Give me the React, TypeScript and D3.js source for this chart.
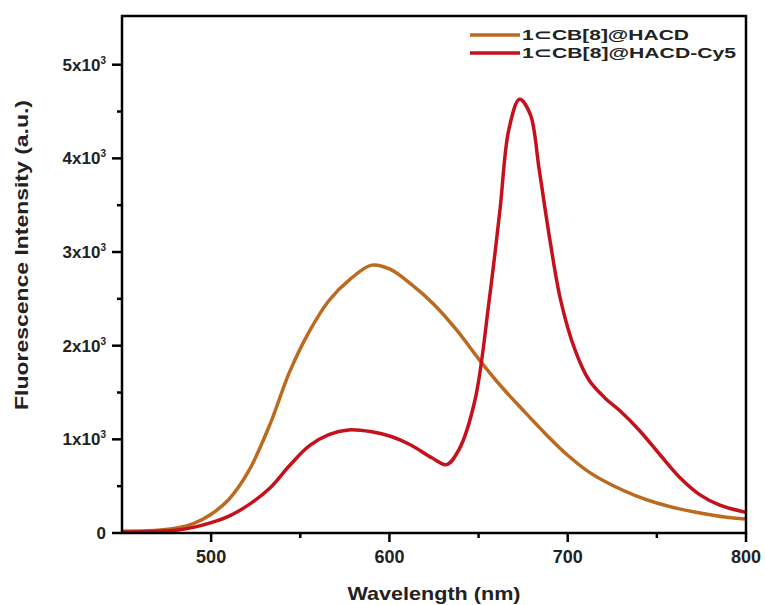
import { useEffect, useRef } from "react";
import * as d3 from "d3";

// wavelength (nm) / intensity (x10^3 a.u.)
const hacdWl = [450, 470, 480, 490, 500, 510, 521, 533, 544, 555, 566, 578, 590, 600, 612, 625, 638, 650, 662, 675, 688, 700, 712, 725, 738, 750, 762, 775, 788, 800];
const hacdVal = [0.02, 0.03, 0.05, 0.1, 0.2, 0.36, 0.66, 1.16, 1.72, 2.15, 2.48, 2.71, 2.86, 2.82, 2.66, 2.44, 2.16, 1.86, 1.58, 1.31, 1.05, 0.83, 0.65, 0.51, 0.4, 0.32, 0.26, 0.21, 0.17, 0.15];

const cy5Wl = [450, 470, 480, 490, 500, 510, 521, 533, 544, 555, 566, 577, 590, 601, 612, 624, 632, 639, 648, 656, 662, 667, 673, 679, 684, 690, 696, 704, 712, 721, 729, 740, 752, 763, 774, 785, 800];
const cy5Val = [0.01, 0.02, 0.03, 0.06, 0.11, 0.18, 0.3, 0.48, 0.72, 0.93, 1.05, 1.1, 1.08, 1.03, 0.94, 0.8, 0.73, 0.89, 1.42, 2.49, 3.45, 4.31, 4.63, 4.47, 3.88, 3.13, 2.49, 1.96, 1.63, 1.44, 1.31, 1.1, 0.83, 0.59, 0.41, 0.3, 0.22];

const xTicks = [500, 600, 700, 800];
const xMinor = [550, 650, 750];
const yTicks = [0, 1, 2, 3, 4, 5];
const yMinor = [0.5, 1.5, 2.5, 3.5, 4.5];

const seriesNames = ["1\u2282CB[8]@HACD", "1\u2282CB[8]@HACD-Cy5"];
const seriesColors = ["#bb6a1f", "#c4111b"];
const legendWidths = [167, 214];

const App = () => {
  const ref = useRef<SVGSVGElement | null>(null);

  useEffect(() => {
    const W = 765;
    const H = 605;
    const m = { left: 122, right: 19, top: 16, bottom: 72 };
    const svg = d3.select(ref.current);
    svg.selectAll("*").remove();

    const x = d3.scaleLinear().domain([450, 800]).range([m.left, W - m.right]);
    const y = d3.scaleLinear().domain([0, 5.52]).range([H - m.bottom, m.top]);
    const font = "'Liberation Sans', Arial, sans-serif";
    const txt = "#222";

    const line = d3
      .line<[number, number]>()
      .x((d) => x(d[0]))
      .y((d) => y(d[1]))
      .curve(d3.curveCatmullRom.alpha(0.5));

    const series = [
      hacdWl.map((w, i) => [w, hacdVal[i]] as [number, number]),
      cy5Wl.map((w, i) => [w, cy5Val[i]] as [number, number]),
    ];

    series.forEach((s, i) => {
      svg
        .append("path")
        .attr("d", line(s))
        .attr("fill", "none")
        .attr("stroke", seriesColors[i])
        .attr("stroke-width", 3.5)
        .attr("stroke-linejoin", "round");
    });

    // frame
    svg
      .append("rect")
      .attr("x", m.left)
      .attr("y", m.top)
      .attr("width", W - m.right - m.left)
      .attr("height", H - m.bottom - m.top)
      .attr("fill", "none")
      .attr("stroke", "#000")
      .attr("stroke-width", 2.5);

    const x0 = m.left;
    const y0 = H - m.bottom;

    // x ticks
    xTicks.forEach((t) => {
      svg.append("line").attr("x1", x(t)).attr("x2", x(t)).attr("y1", y0).attr("y2", y0 + 9).attr("stroke", "#000").attr("stroke-width", 2.5);
      svg
        .append("text")
        .attr("x", x(t))
        .attr("y", y0 + 30)
        .attr("text-anchor", "middle")
        .attr("font-family", font)
        .attr("font-size", 18)
        .attr("font-weight", "bold")
        .attr("fill", txt)
        .text(t);
    });
    xMinor.forEach((t) => {
      svg.append("line").attr("x1", x(t)).attr("x2", x(t)).attr("y1", y0).attr("y2", y0 + 5).attr("stroke", "#000").attr("stroke-width", 2.5);
    });

    // y ticks
    yTicks.forEach((t) => {
      svg.append("line").attr("x1", x0 - 10).attr("x2", x0).attr("y1", y(t)).attr("y2", y(t)).attr("stroke", "#000").attr("stroke-width", 2.5);
      const tx = svg
        .append("text")
        .attr("x", x0 - 16)
        .attr("y", y(t) + 6)
        .attr("text-anchor", "end")
        .attr("font-family", font)
        .attr("font-size", 17)
        .attr("font-weight", "bold")
        .attr("fill", txt);
      if (t === 0) {
        tx.text("0");
      } else {
        tx.append("tspan").text(`${t}x10`);
        tx.append("tspan").attr("font-size", 10).attr("dy", -7).text("3");
      }
    });
    yMinor.forEach((t) => {
      svg.append("line").attr("x1", x0 - 5).attr("x2", x0).attr("y1", y(t)).attr("y2", y(t)).attr("stroke", "#000").attr("stroke-width", 2.5);
    });

    // axis titles
    svg
      .append("text")
      .attr("x", 434)
      .attr("y", 600)
      .attr("text-anchor", "middle")
      .attr("font-family", font)
      .attr("font-size", 19)
      .attr("font-weight", "bold")
      .attr("fill", txt)
      .attr("textLength", 173)
      .attr("lengthAdjust", "spacingAndGlyphs")
      .text("Wavelength (nm)");

    svg
      .append("text")
      .attr("transform", `translate(28, 255) rotate(-90)`)
      .attr("text-anchor", "middle")
      .attr("font-family", font)
      .attr("font-size", 19)
      .attr("font-weight", "bold")
      .attr("fill", txt)
      .attr("textLength", 310)
      .attr("lengthAdjust", "spacingAndGlyphs")
      .text("Fluorescence Intensity (a.u.)");

    // legend
    seriesNames.forEach((name, i) => {
      const ly = 35 + i * 18;
      svg.append("line").attr("x1", 470).attr("x2", 520).attr("y1", ly).attr("y2", ly).attr("stroke", seriesColors[i]).attr("stroke-width", 3.5);
      svg
        .append("text")
        .attr("x", 522)
        .attr("y", ly + 5)
        .attr("font-family", font)
        .attr("font-size", 15)
        .attr("font-weight", "bold")
        .attr("fill", txt)
        .attr("textLength", legendWidths[i])
        .attr("lengthAdjust", "spacingAndGlyphs")
        .text(name);
    });
  }, []);

  return <svg ref={ref} width={765} height={605} style={{ position: "absolute", left: 0, top: 0 }} />;
};

export default App;
